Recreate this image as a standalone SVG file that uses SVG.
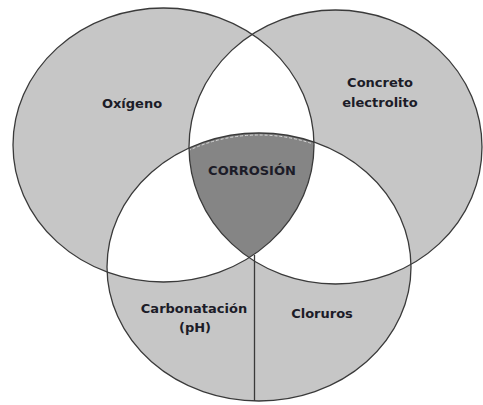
<svg xmlns="http://www.w3.org/2000/svg" width="483" height="405" viewBox="0 0 483 405">
<style>
.fillg{fill:#c6c6c6;}
.outl{fill:none;stroke:#3a3a3a;stroke-width:1.3;}
.lbl{font-family:"DejaVu Sans","Liberation Sans",sans-serif;font-weight:bold;font-size:13px;fill:#1c1c28;text-anchor:middle;}
</style>
<defs>
<ellipse id="eA" cx="163.5" cy="145" rx="150.5" ry="137"/>
<ellipse id="eB" cx="335.5" cy="147" rx="146.5" ry="137"/>
<ellipse id="eC" cx="259" cy="267" rx="152" ry="134"/>
<clipPath id="cA"><use href="#eA"/></clipPath>
<clipPath id="cB"><use href="#eB"/></clipPath>
<clipPath id="cC"><use href="#eC"/></clipPath>
</defs>
<rect width="483" height="405" fill="#ffffff"/>
<g id="fills">
<use href="#eA" class="fillg"/>
<use href="#eB" class="fillg"/>
<use href="#eC" class="fillg"/>
<g clip-path="url(#cA)"><use href="#eB" fill="#ffffff"/><use href="#eC" fill="#ffffff"/></g>
<g clip-path="url(#cB)"><use href="#eC" fill="#ffffff"/></g>
<g clip-path="url(#cA)"><g clip-path="url(#cB)"><use href="#eC" fill="#858585"/><use href="#eC" fill="none" stroke="#d8d8d8" stroke-width="1" stroke-dasharray="3 2" transform="translate(259 267) scale(0.985) translate(-259 -267)"/></g></g>
</g>
<g id="node-oxigeno">
<use href="#eA" class="outl"/>
<text class="lbl" x="132" y="108">Oxígeno</text>
</g>
<g id="node-concreto">
<use href="#eB" class="outl"/>
<text class="lbl" x="380" y="87">Concreto</text>
<text class="lbl" x="380" y="107">electrolito</text>
</g>
<g id="node-bottom">
<use href="#eC" class="outl"/>
<text class="lbl" x="194" y="313">Carbonatación</text>
<text class="lbl" x="195" y="332">(pH)</text>
<text class="lbl" x="322" y="318">Cloruros</text>
</g>
<g id="node-corrosion">
<text class="lbl" x="252" y="175">CORROSIÓN</text>
</g>
<g id="connectors">
<line x1="254.5" y1="255" x2="254.5" y2="401" stroke="#3a3a3a" stroke-width="1.3"/>
</g>
</svg>
